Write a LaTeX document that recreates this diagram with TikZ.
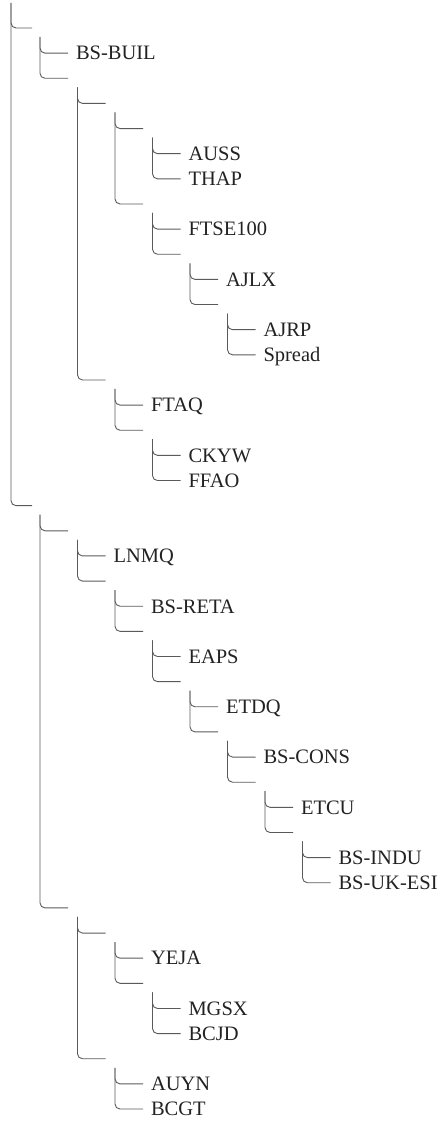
\documentclass[tikz,border=0pt]{standalone}
\usepackage{fontspec}
\setmainfont{Liberation Serif}
\definecolor{linegray}{HTML}{5A5A5A}
\definecolor{textdark}{HTML}{222222}
\newcommand{\lblfont}{\fontsize{20.5pt}{24pt}\selectfont}
\tikzset{
  link/.style={draw=linegray, line width=0.9pt, rounded corners=5pt},
  leaf/.style={anchor=west, inner xsep=8pt, inner ysep=0pt, outer sep=0pt,
    text height=13.6pt, text depth=0pt, font=\lblfont, text=textdark},
}
\begin{document}
\begin{tikzpicture}[x=1pt,y=-1pt]
\useasboundingbox (0,0) rectangle (441,1126);
% ---------- internal nodes (end of their horizontal stroke) ----------
\coordinate (A) at (32,{28+25.14*0});
\coordinate (J) at (32,{28+25.14*19});
\coordinate (B) at (68,{28+25.14*2});
\coordinate (C) at (105.5,{28+25.14*3});
\coordinate (H) at (105.5,{28+25.14*14});
\coordinate (D) at (143,{28+25.14*4});
\coordinate (E) at (143,{28+25.14*7});
\coordinate (F) at (180.5,{28+25.14*9});
\coordinate (G) at (218,{28+25.14*11});
\coordinate (I) at (143,{28+25.14*16});
\coordinate (K) at (68,{28+25.14*20});
\coordinate (R) at (68,{28+25.14*35});
\coordinate (L) at (105.5,{28+25.14*22});
\coordinate (M) at (143,{28+25.14*24});
\coordinate (N) at (180.5,{28+25.14*26});
\coordinate (O) at (218,{28+25.14*28});
\coordinate (P) at (255.5,{28+25.14*30});
\coordinate (Q) at (293,{28+25.14*32});
\coordinate (S) at (105.5,{28+25.14*36});
\coordinate (U) at (105.5,{28+25.14*41});
\coordinate (T) at (143,{28+25.14*38});
% ---------- leaves ----------
\node[leaf] (bsbuil) at (68,{28+25.14*1}) {BS-BUIL};
\node[leaf] (auss) at (180.5,{28+25.14*5}) {AUSS};
\node[leaf] (thap) at (180.5,{28+25.14*6}) {THAP};
\node[leaf] (ftse) at (180.5,{28+25.14*8}) {FTSE100};
\node[leaf] (ajlx) at (218,{28+25.14*10}) {AJLX};
\node[leaf] (ajrp) at (255.5,{28+25.14*12}) {AJRP};
\node[leaf] (spread) at (255.5,{28+25.14*13}) {Spread};
\node[leaf] (ftaq) at (143,{28+25.14*15}) {FTAQ};
\node[leaf] (ckyw) at (180.5,{28+25.14*17}) {CKYW};
\node[leaf] (ffao) at (180.5,{28+25.14*18}) {FFAO};
\node[leaf] (lnmq) at (105.5,{28+25.14*21}) {LNMQ};
\node[leaf] (bsreta) at (143,{28+25.14*23}) {BS-RETA};
\node[leaf] (eaps) at (180.5,{28+25.14*25}) {EAPS};
\node[leaf] (etdq) at (218,{28+25.14*27}) {ETDQ};
\node[leaf] (bscons) at (255.5,{28+25.14*29}) {BS-CONS};
\node[leaf] (etcu) at (293,{28+25.14*31}) {ETCU};
\node[leaf] (bsindu) at (330.5,{28+25.14*33}) {BS-INDU};
\node[leaf] (bsukesi) at (330.5,{28+25.14*34}) {BS-UK-ESI};
\node[leaf] (yeja) at (143,{28+25.14*37}) {YEJA};
\node[leaf] (mgsx) at (180.5,{28+25.14*39}) {MGSX};
\node[leaf] (bcjd) at (180.5,{28+25.14*40}) {BCJD};
\node[leaf] (auyn) at (143,{28+25.14*42}) {AUYN};
\node[leaf] (bcgt) at (143,{28+25.14*43}) {BCGT};
% ---------- bracket tops ----------
\coordinate (rootT) at (11,3);
\coordinate (AT) at (40,{28+25.14*0+9});
\coordinate (BT) at (77.5,{28+25.14*2+9});
\coordinate (CT) at (115,{28+25.14*3+9});
\coordinate (DT) at (152.5,{28+25.14*4+9});
\coordinate (ET) at (152.5,{28+25.14*7+9});
\coordinate (FT) at (190,{28+25.14*9+9});
\coordinate (GT) at (227.5,{28+25.14*11+9});
\coordinate (HT) at (115,{28+25.14*14+9});
\coordinate (IT) at (152.5,{28+25.14*16+9});
\coordinate (JT) at (40,{28+25.14*19+9});
\coordinate (KT) at (77.5,{28+25.14*20+9});
\coordinate (LT) at (115,{28+25.14*22+9});
\coordinate (MT) at (152.5,{28+25.14*24+9});
\coordinate (NT) at (190,{28+25.14*26+9});
\coordinate (OT) at (227.5,{28+25.14*28+9});
\coordinate (PT) at (265,{28+25.14*30+9});
\coordinate (QT) at (302.5,{28+25.14*32+9});
\coordinate (RT) at (77.5,{28+25.14*35+9});
\coordinate (ST) at (115,{28+25.14*36+9});
\coordinate (TT) at (152.5,{28+25.14*38+9});
\coordinate (UT) at (115,{28+25.14*41+9});
% ---------- connectors ----------
\draw[link] (rootT) |- (A);  \draw[link] (rootT) |- (J);
\draw[link] (AT) |- (bsbuil.west); \draw[link] (AT) |- (B);
\draw[link] (BT) |- (C); \draw[link] (BT) |- (H);
\draw[link] (CT) |- (D); \draw[link] (CT) |- (E);
\draw[link] (DT) |- (auss.west); \draw[link] (DT) |- (thap.west);
\draw[link] (ET) |- (ftse.west); \draw[link] (ET) |- (F);
\draw[link] (FT) |- (ajlx.west); \draw[link] (FT) |- (G);
\draw[link] (GT) |- (ajrp.west); \draw[link] (GT) |- (spread.west);
\draw[link] (HT) |- (ftaq.west); \draw[link] (HT) |- (I);
\draw[link] (IT) |- (ckyw.west); \draw[link] (IT) |- (ffao.west);
\draw[link] (JT) |- (K); \draw[link] (JT) |- (R);
\draw[link] (KT) |- (lnmq.west); \draw[link] (KT) |- (L);
\draw[link] (LT) |- (bsreta.west); \draw[link] (LT) |- (M);
\draw[link] (MT) |- (eaps.west); \draw[link] (MT) |- (N);
\draw[link] (NT) |- (etdq.west); \draw[link] (NT) |- (O);
\draw[link] (OT) |- (bscons.west); \draw[link] (OT) |- (P);
\draw[link] (PT) |- (etcu.west); \draw[link] (PT) |- (Q);
\draw[link] (QT) |- (bsindu.west); \draw[link] (QT) |- (bsukesi.west);
\draw[link] (RT) |- (S); \draw[link] (RT) |- (U);
\draw[link] (ST) |- (yeja.west); \draw[link] (ST) |- (T);
\draw[link] (TT) |- (mgsx.west); \draw[link] (TT) |- (bcjd.west);
\draw[link] (UT) |- (auyn.west); \draw[link] (UT) |- (bcgt.west);
\end{tikzpicture}
\end{document}
